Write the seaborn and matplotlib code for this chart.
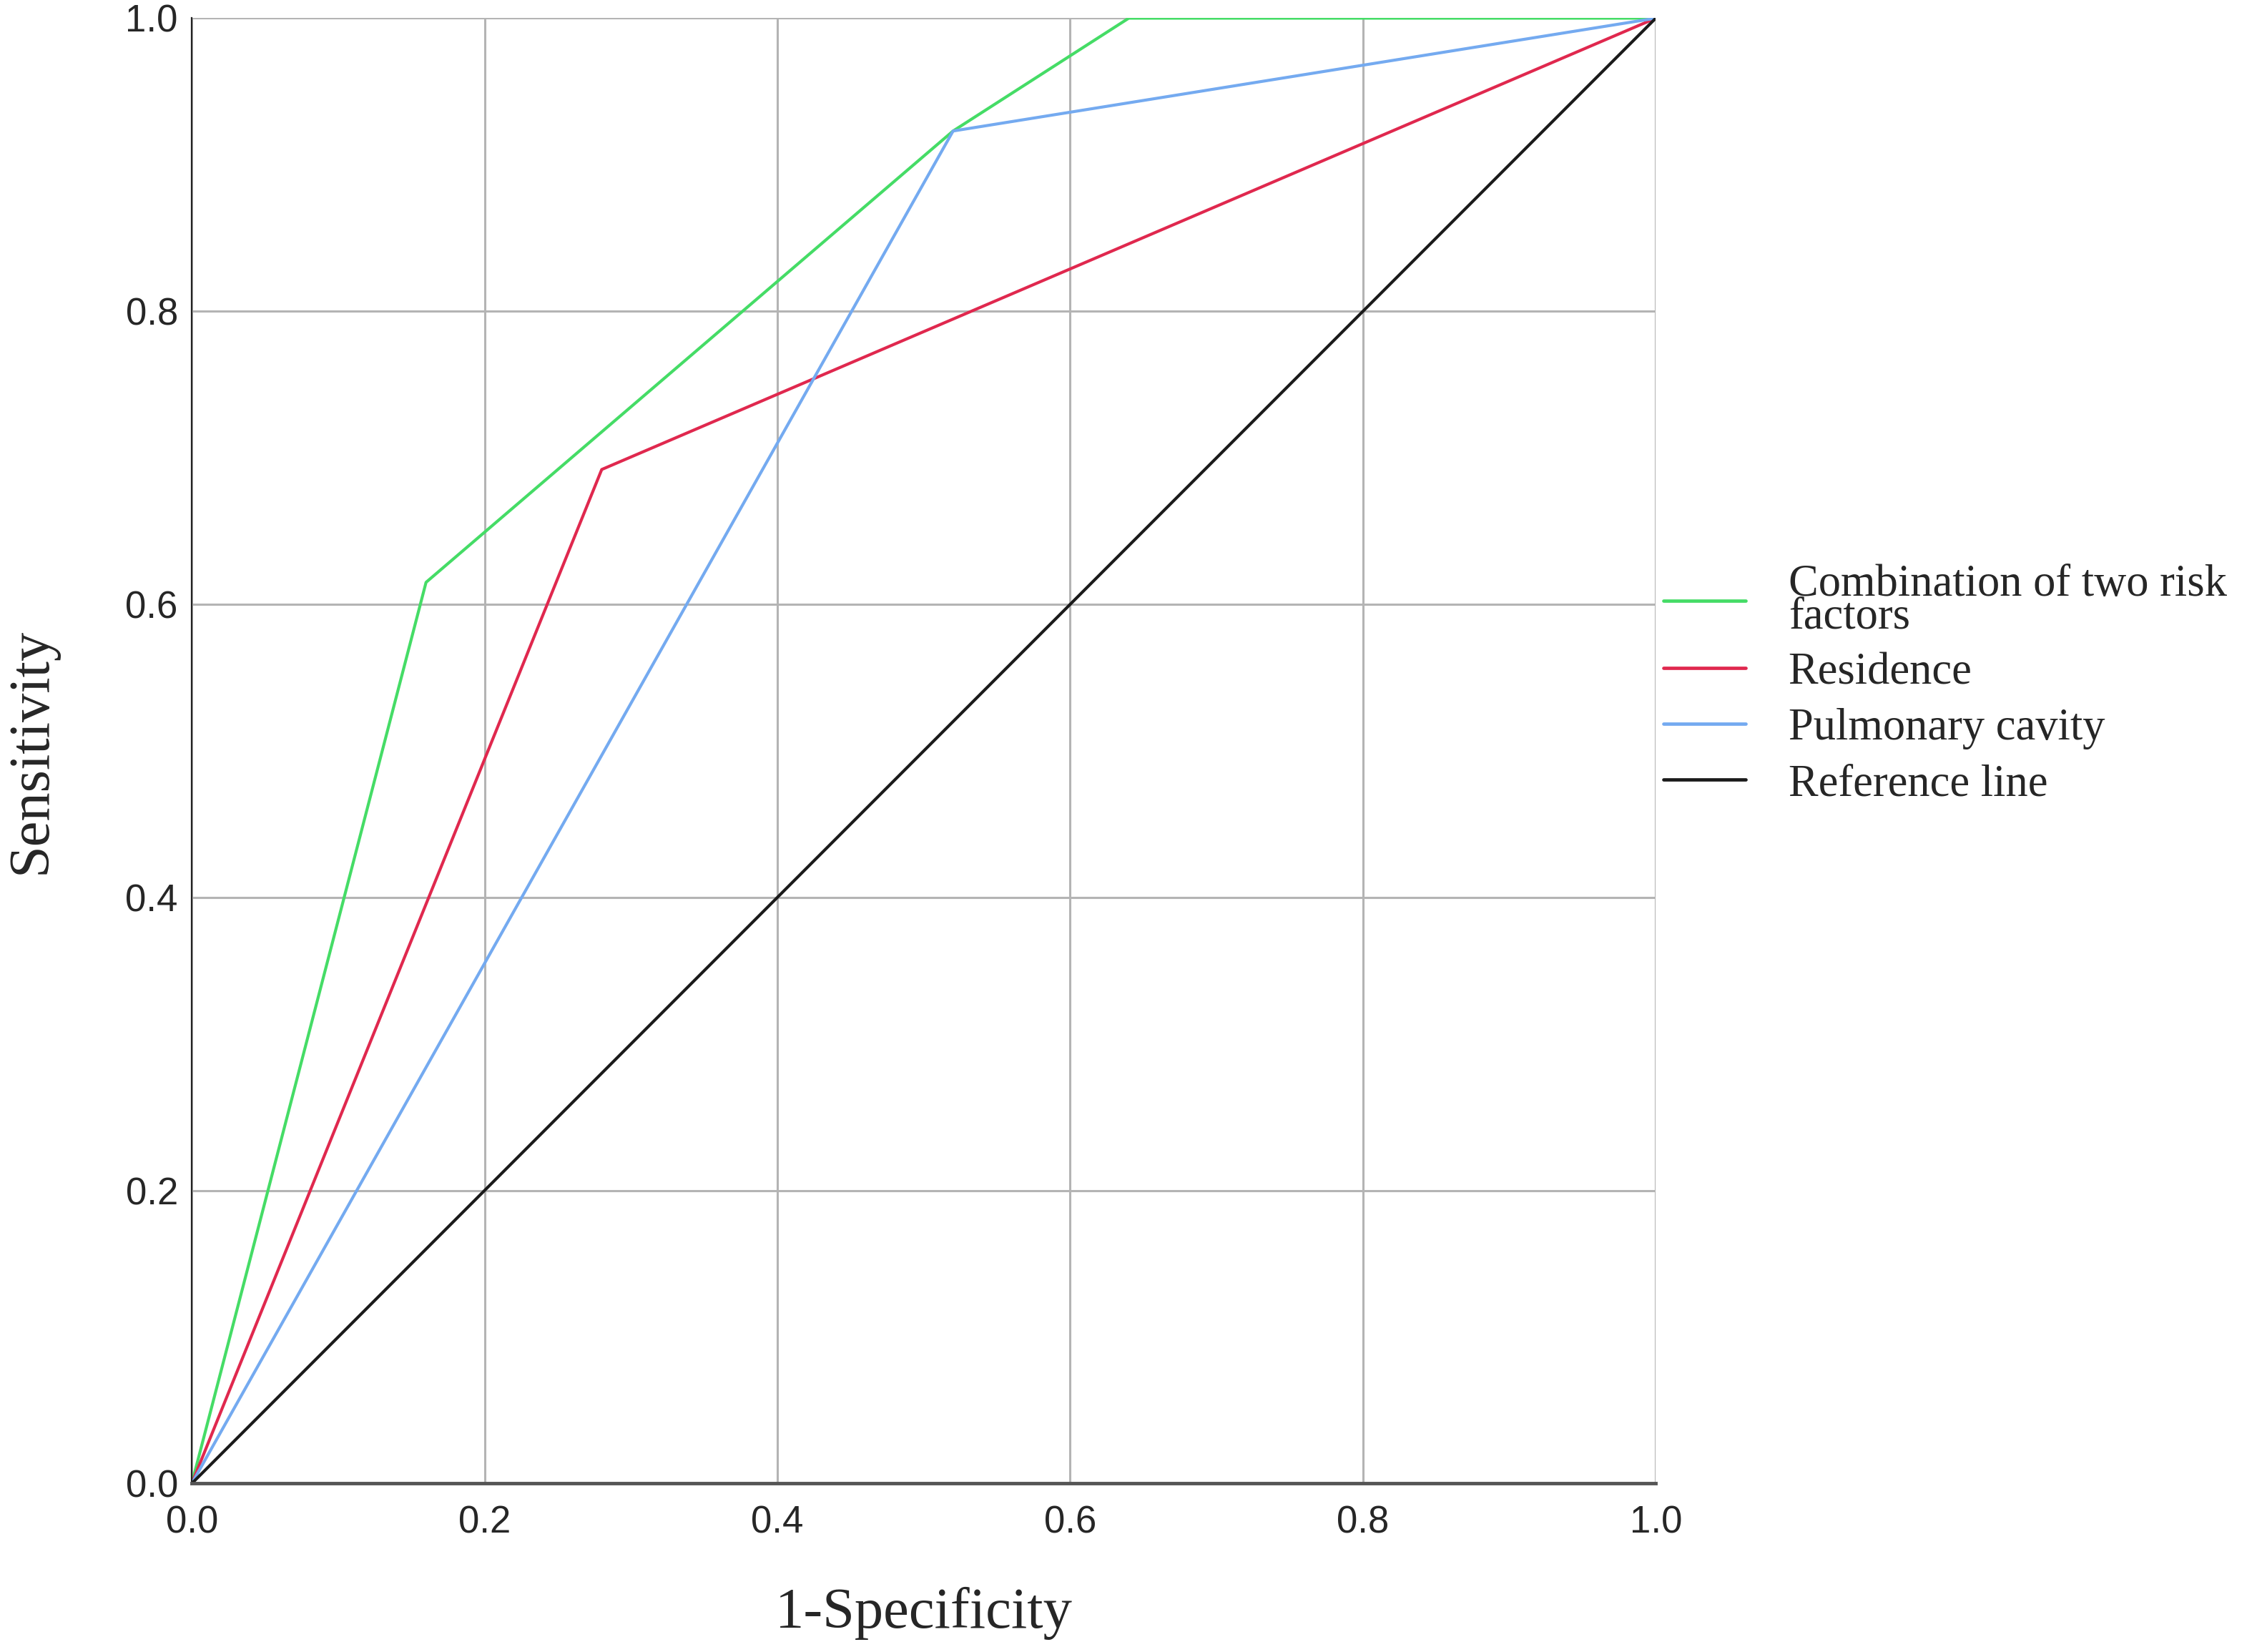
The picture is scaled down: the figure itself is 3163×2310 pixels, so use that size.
import matplotlib
matplotlib.use("Agg")
import matplotlib.pyplot as plt
import seaborn as sns
import pandas as pd
from matplotlib import font_manager

# ---- data ----
combo_x = [0.0, 0.16, 0.52, 0.64, 1.0]
combo_y = [0.0, 0.615, 0.923, 1.0, 1.0]
resid_x = [0.0, 0.28, 1.0]
resid_y = [0.0, 0.692, 1.0]
cavity_x = [0.0, 0.52, 1.0]
cavity_y = [0.0, 0.923, 1.0]
ref_x = [0.0, 1.0]
ref_y = [0.0, 1.0]
series_names = ["Combination of two risk\nfactors", "Residence", "Pulmonary cavity", "Reference line"]
colors = ["#45dc66", "#e0284e", "#74aaf0", "#1a1a1a"]
ticks = [0.0, 0.2, 0.4, 0.6, 0.8, 1.0]
tick_labels = ["0.0", "0.2", "0.4", "0.6", "0.8", "1.0"]

frames = []
for name, xs, ys in zip(series_names, [combo_x, resid_x, cavity_x, ref_x],
                        [combo_y, resid_y, cavity_y, ref_y]):
    frames.append(pd.DataFrame({"x": xs, "y": ys, "series": name}))
df = pd.concat(frames, ignore_index=True)

sns.set_style("whitegrid")
available = {f.name for f in font_manager.fontManager.ttflist}
narrow = "Liberation Sans Narrow" if "Liberation Sans Narrow" in available else "Liberation Sans"
serif = "Liberation Serif"

fig = plt.figure(figsize=(31.63, 23.10), dpi=100)
ax = fig.add_axes([0.0848, 0.102, 0.6472, 0.887])

sns.lineplot(data=df, x="x", y="y", hue="series", hue_order=series_names,
             palette=colors, sort=False, estimator=None, units="series",
             linewidth=3.0, ax=ax, legend=False)

ax.set_xlim(0, 1)
ax.set_ylim(0, 1)
ax.set_xticks(ticks)
ax.set_yticks(ticks)
ax.set_xticklabels(tick_labels, fontfamily=narrow, fontsize=38)
ax.set_yticklabels(tick_labels, fontfamily=narrow, fontsize=38)
ax.tick_params(axis="both", length=0)
ax.tick_params(axis="x", pad=22)
ax.tick_params(axis="y", pad=14)
ax.grid(True, color="#b4b4b4", linewidth=2.2)
for s in ["top", "right"]:
    ax.spines[s].set_visible(False)
ax.spines["left"].set_color("#222222")
ax.spines["left"].set_linewidth(1.6)
ax.spines["bottom"].set_color("#555555")
ax.spines["bottom"].set_linewidth(3.5)

ax.set_xlabel("1-Specificity", fontfamily=serif, fontsize=58, labelpad=46)
ax.set_ylabel("Sensitivity", fontfamily=serif, fontsize=58, labelpad=68)

handles = [plt.Line2D([], [], color=c, linewidth=3.4) for c in colors]
leg = fig.legend(handles, series_names, loc="upper left",
                 bbox_to_anchor=(0.7175, 0.683), frameon=False,
                 prop={"family": serif, "size": 45},
                 handlelength=1.85, handletextpad=0.95, labelspacing=0.32)
for t in leg.get_texts():
    t.set_linespacing(0.72)

fig.savefig("out.png", dpi=100, facecolor="white")
